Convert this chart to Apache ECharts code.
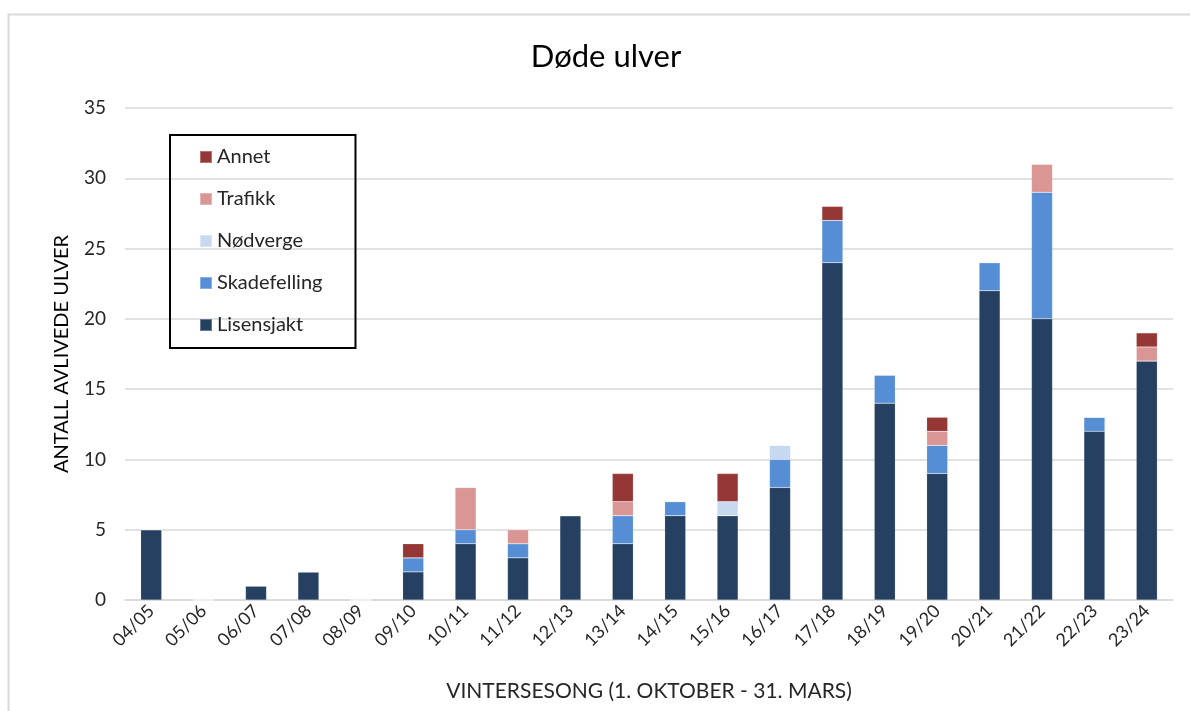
<!DOCTYPE html>
<html lang="no">
<head>
    <meta charset="utf-8">
    <title>Døde ulver</title>
    <script src="https://cdn.jsdelivr.net/npm/echarts@6/dist/echarts.min.js"></script>
    <style type="text/css">
        html, body {
            margin: 0;
            padding: 0;
            background: #fff;
        }

        #main {
            width: 1190px;
            height: 711px;
        }
    </style>
</head>
<body>
<div id="main"></div>

<script type="text/javascript">
    // sesonger (1. okt - 31. mars)
    var seasons = ['04/05', '05/06', '06/07', '07/08', '08/09', '09/10', '10/11', '11/12', '12/13', '13/14',
        '14/15', '15/16', '16/17', '17/18', '18/19', '19/20', '20/21', '21/22', '22/23', '23/24'];

    var lisensjakt = [5, 0, 1, 2, 0, 2, 4, 3, 6, 4, 6, 6, 8, 24, 14, 9, 22, 20, 12, 17];
    var skadefelling = [0, 0, 0, 0, 0, 1, 1, 1, 0, 2, 1, 0, 2, 3, 2, 2, 2, 9, 1, 0];
    var nodverge = [0, 0, 0, 0, 0, 0, 0, 0, 0, 0, 0, 1, 1, 0, 0, 0, 0, 0, 0, 0];
    var trafikk = [0, 0, 0, 0, 0, 0, 3, 1, 0, 1, 0, 0, 0, 0, 0, 1, 0, 2, 0, 1];
    var annet = [0, 0, 0, 0, 0, 1, 0, 0, 0, 2, 0, 2, 0, 1, 0, 1, 0, 0, 0, 1];

    var yTicks = [0, 5, 10, 15, 20, 25, 30, 35];

    var font = 'Lato, "Open Sans", sans-serif';

    function bar(name, data, color) {
        return {
            name: name,
            type: 'bar',
            stack: 'total',
            barWidth: 21,
            data: data,
            itemStyle: {color: color, borderColor: 'rgba(255,255,255,0.3)', borderWidth: 0.5}
        };
    }

    var myChart = echarts.init(document.getElementById('main'));
    var option = {
        animation: false,
        textStyle: {fontFamily: font},
        graphic: [{
            type: 'rect',
            shape: {x: 8.5, y: 14.5, width: 1200, height: 720},
            style: {fill: null, stroke: '#d9d9d9', lineWidth: 2}
        }],
        title: {
            text: 'Døde ulver',
            left: 601,
            top: 36,
            textAlign: 'center',
            textStyle: {fontSize: 31, fontWeight: 'normal', color: '#000', fontFamily: font}
        },
        legend: {
            orient: 'vertical',
            left: 170,
            top: 135,
            data: ['Annet', 'Trafikk', 'Nødverge', 'Skadefelling', 'Lisensjakt'],
            icon: 'rect',
            itemWidth: 12,
            itemHeight: 12,
            itemGap: 22,
            borderColor: '#000',
            borderWidth: 2,
            padding: [12, 33, 13, 29],
            textStyle: {fontSize: 20, color: '#262626', fontFamily: font}
        },
        grid: {left: 125, right: 17, top: 108, bottom: 111},
        xAxis: {
            type: 'category',
            data: seasons,
            name: 'VINTERSESONG (1. OKTOBER - 31. MARS)',
            nameLocation: 'middle',
            nameGap: 81,
            nameTextStyle: {fontSize: 21, color: '#262626'},
            axisTick: {show: false},
            axisLine: {lineStyle: {color: '#d9d9d9', width: 1.5}},
            axisLabel: {rotate: 45, fontSize: 18, color: '#262626', margin: 8, interval: 0}
        },
        yAxis: {
            type: 'value',
            min: yTicks[0],
            max: yTicks[yTicks.length - 1],
            interval: 5,
            name: 'ANTALL AVLIVEDE ULVER',
            nameLocation: 'middle',
            nameGap: 53,
            nameTextStyle: {fontSize: 20, color: '#000'},
            axisLabel: {fontSize: 19, color: '#262626', margin: 19},
            splitLine: {lineStyle: {color: '#d9d9d9', width: 1.5}}
        },
        series: [
            bar('Lisensjakt', lisensjakt, '#254061'),
            bar('Skadefelling', skadefelling, '#558ed5'),
            bar('Nødverge', nodverge, '#c6d9f1'),
            bar('Trafikk', trafikk, '#d99694'),
            bar('Annet', annet, '#953735')
        ]
    };
    myChart.setOption(option);
</script>
</body>
</html>
